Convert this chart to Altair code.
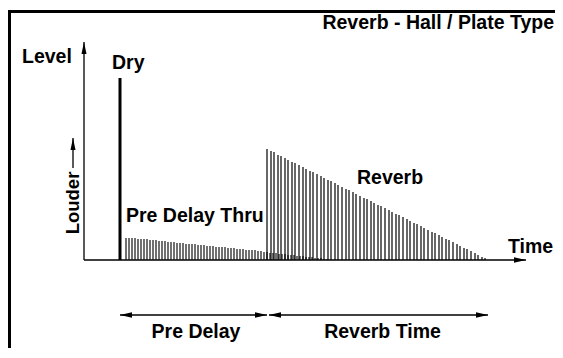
import altair as alt
import pandas as pd

# ---- data (time / level units of the diagram) ----
dry_time = [36]
dry_level = [182]

thru_times = [42, 45, 48, 51, 54, 57, 60, 63, 66, 69, 72, 75, 78, 81, 84, 87, 90, 93,
              96, 99, 102, 105, 108, 111, 114, 117, 120, 123, 126, 129, 132, 135, 138,
              141, 144, 147, 150, 153, 156, 159, 162, 165, 168, 171, 174, 177,
              180, 183, 186, 189, 192, 195, 198, 201, 204, 207, 210, 213, 216, 219,
              222, 225, 228, 231, 234, 237, 240, 243]
thru_levels = [22, 22, 22, 22, 21, 21, 21, 21, 20, 20, 20, 19, 19, 19, 18, 18, 18, 17,
               17, 17, 16, 16, 16, 16, 15, 15, 15, 14, 14, 14, 13, 13, 13, 13, 12, 12,
               12, 11, 11, 11, 10, 10, 10, 10, 9, 9,
               8, 8, 7, 7, 7, 6, 6, 6, 5, 5, 5, 4, 4, 4, 3, 3, 3, 2, 2, 2, 1, 1]

reverb_times = [183, 187, 190, 194, 197, 201, 204, 208, 211, 215,
                219, 222, 226, 229, 233, 237, 240, 244, 247, 251,
                254, 258, 262, 265, 269, 272, 276, 280, 283, 287,
                290, 294, 297, 301, 305, 308, 312, 315, 319, 323,
                326, 330, 333, 337, 340, 344, 348, 351, 355, 358,
                362, 365, 369, 373, 376, 380, 383, 387, 391, 394,
                398, 401]
reverb_levels = [111, 109, 108, 105, 104, 102, 100, 98, 97, 95,
                 93, 91, 89, 88, 86, 84, 82, 80, 79, 77,
                 75, 73, 71, 70, 68, 66, 64, 62, 61, 59,
                 57, 55, 54, 52, 50, 48, 46, 45, 43, 41,
                 39, 37, 36, 34, 32, 30, 28, 27, 25, 23,
                 21, 20, 18, 16, 14, 12, 11, 9, 7, 5,
                 3, 2]

# annotation anchors (diagram units)
axis_time_end = 442
axis_level_end = 218
louder_arrow = [92, 122]          # level from/to (tip), at time -11
span_level = -55
predelay_span = [36, 183]
reverbtime_span = [185, 404]

labels = ["Reverb - Hall / Plate Type", "Level", "Dry", "Pre Delay Thru", "Reverb",
          "Time", "Pre Delay", "Reverb Time"]
label_t = [470, -62, 28, 42, 273, 424, 112, 298.5]
label_l = [231, 197, 191, 38, 76, 7, -78, -78]
label_align = ["right", "left", "left", "left", "left", "left", "center", "center"]

assert len(thru_times) == len(thru_levels)
assert len(reverb_times) == len(reverb_levels)

FONT = "Liberation Sans"
FS = 19.5
xs = alt.Scale(domain=[-76, 471], nice=False, zero=False)
ys = alt.Scale(domain=[-88, 252], nice=False, zero=False)

def X(f):
    return alt.X(f, type="quantitative", scale=xs, axis=None)

def Y(f):
    return alt.Y(f, type="quantitative", scale=ys, axis=None)

# frame (left + top edges)
frame_v = pd.DataFrame({"t": [-74.5], "a": [250], "b": [-88]})
frame_h = pd.DataFrame({"l": [248.5], "a": [-76], "b": [471]})
frame = alt.layer(
    alt.Chart(frame_v).mark_rule(color="black", strokeWidth=3).encode(
        x=X("t"), y=Y("a"), y2="b"),
    alt.Chart(frame_h).mark_rule(color="black", strokeWidth=3).encode(
        y=Y("l"), x=X("a"), x2="b"),
)

# axes
ax_df = pd.DataFrame({"t0": [0, 0], "t1": [0, axis_time_end], "l0": [0, 0],
                      "l1": [axis_level_end, 0]})
axes = alt.Chart(ax_df).mark_rule(color="black", strokeWidth=1.3).encode(
    x=X("t0"), x2="t1", y=Y("l0"), y2="l1")

# bars
thru_df = pd.DataFrame({"t": thru_times, "lv": thru_levels, "z": 0})
rev_df = pd.DataFrame({"t": reverb_times, "lv": reverb_levels, "z": 0})
dry_df = pd.DataFrame({"t": dry_time, "lv": dry_level, "z": 0})

thru = alt.Chart(thru_df).mark_rule(color="#111", strokeWidth=1.2).encode(
    x=X("t"), y=Y("lv"), y2="z")
rev = alt.Chart(rev_df).mark_rule(color="black", strokeWidth=1.2).encode(
    x=X("t"), y=Y("lv"), y2="z")
dry = alt.Chart(dry_df).mark_rule(color="black", strokeWidth=3).encode(
    x=X("t"), y=Y("lv"), y2="z")

# Louder arrow shaft & span lines
line_df = pd.DataFrame({
    "t0": [-11, predelay_span[0], reverbtime_span[0]],
    "t1": [-11, predelay_span[1], reverbtime_span[1]],
    "l0": [louder_arrow[0], span_level, span_level],
    "l1": [louder_arrow[1], span_level, span_level],
})
lines = alt.Chart(line_df).mark_rule(color="black", strokeWidth=1.3).encode(
    x=X("t0"), x2="t1", y=Y("l0"), y2="l1")

UP = "M0,0L0.42,2L-0.42,2Z"
RIGHT = "M0,0L-2,-0.45L-2,0.45Z"
LEFT = "M0,0L2,-0.45L2,0.45Z"

heads_df = pd.DataFrame({
    "t": [0, -11, axis_time_end, predelay_span[0], predelay_span[1],
          reverbtime_span[0], reverbtime_span[1]],
    "l": [axis_level_end, louder_arrow[1], 0, span_level, span_level,
          span_level, span_level],
    "shape": [UP, UP, RIGHT, LEFT, RIGHT, LEFT, RIGHT],
})
heads = alt.Chart(heads_df).mark_point(filled=True, color="black", size=144,
                                       strokeWidth=0, opacity=1).encode(
    x=X("t"), y=Y("l"),
    shape=alt.Shape("shape:N", scale=None, legend=None))

# labels
lab_df = pd.DataFrame({"text": labels, "t": label_t, "l": label_l, "al": label_align})
texts = []
for al in ["left", "right", "center"]:
    texts.append(
        alt.Chart(lab_df[lab_df.al == al]).mark_text(
            font=FONT, fontSize=FS, fontWeight="bold", color="black",
            align=al, baseline="alphabetic").encode(
            x=X("t"), y=Y("l"), text="text:N"))

louder_df = pd.DataFrame({"text": ["Louder"], "t": [-5], "l": [57]})
louder = alt.Chart(louder_df).mark_text(
    font=FONT, fontSize=18.5, fontWeight="bold", color="black",
    align="center", baseline="alphabetic", angle=270).encode(
    x=X("t"), y=Y("l"), text="text:N")

chart = alt.layer(frame, axes, thru, rev, dry, lines, heads, *texts, louder).properties(
    width=547, height=340, padding=0,
    autosize=alt.AutoSizeParams(type="none"),
    background="white",
).configure_view(stroke=None)

chart.save("out.html", embed_options={"renderer": "svg", "actions": False})
